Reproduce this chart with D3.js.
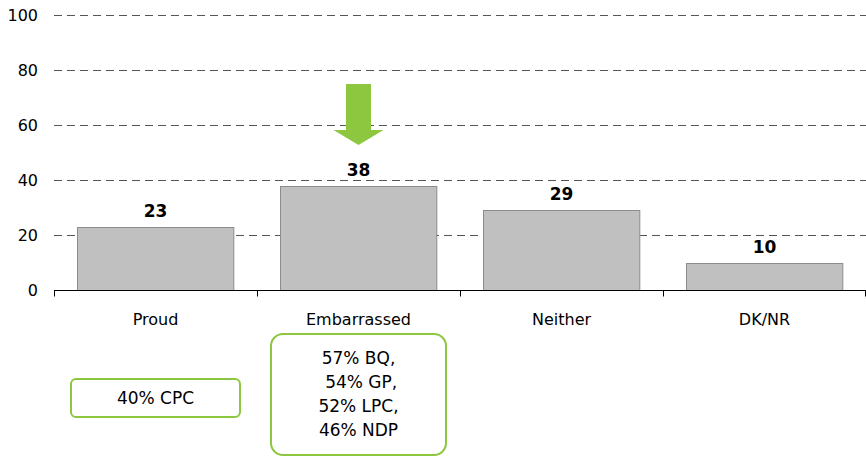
<!DOCTYPE html>
<html>
<head>
<meta charset="utf-8">
<script src="https://cdn.jsdelivr.net/npm/d3@7"></script>
<style>
  body { margin: 0; background: #fff; }
  svg text { font-family: "DejaVu Sans", Verdana, sans-serif; }
</style>
</head>
<body>
<div class="chart-container"></div>
<script>
// data
const categories = ['Proud', 'Embarrassed', 'Neither', 'DK/NR'];
const values = [23, 38, 29, 10];
const yTicks = [0, 20, 40, 60, 80, 100];
const boxNotes = [
  {cat: 'Proud', lines: ['40% CPC']},
  {cat: 'Embarrassed', lines: ['57% BQ,', ' 54% GP,', '52% LPC,', '46% NDP']}
];
const highlighted = 'Embarrassed';

const W = 866, H = 456;
const margin = {t: 15, r: 0, b: 166, l: 54};
const green = '#8dc63f';

const svg = d3.select('.chart-container').append('svg')
  .attr('width', W)
  .attr('height', H);

const x = d3.scaleBand()
  .domain(categories)
  .range([margin.l, W - margin.r])
  .paddingInner(0.23)
  .paddingOuter(0.115);

const y = d3.scaleLinear()
  .domain([0, 100])
  .range([H - margin.b, margin.t]);

// gridlines (dashed)
svg.append('g')
  .selectAll('line')
  .data(yTicks.filter(d => d > 0))
  .join('line')
  .attr('x1', margin.l)
  .attr('x2', W)
  .attr('y1', d => Math.round(y(d)) + 0.5)
  .attr('y2', d => Math.round(y(d)) + 0.5)
  .attr('stroke', '#555')
  .attr('stroke-width', 1)
  .attr('stroke-dasharray', '8,5');

// y tick labels
svg.append('g')
  .selectAll('text')
  .data(yTicks)
  .join('text')
  .attr('x', 38)
  .attr('y', d => y(d))
  .attr('dy', '0.35em')
  .attr('text-anchor', 'end')
  .attr('font-size', 16)
  .attr('fill', '#000')
  .text(d => d);

// bars
svg.append('g')
  .selectAll('rect')
  .data(values)
  .join('rect')
  .attr('x', (d, i) => Math.round(x(categories[i])) + 0.5)
  .attr('y', d => Math.round(y(d)) + 0.5)
  .attr('width', x.bandwidth())
  .attr('height', d => y(0) - Math.round(y(d)))
  .attr('fill', '#c0c0c0')
  .attr('stroke', '#8c8c8c')
  .attr('stroke-width', 1);

// value labels
svg.append('g')
  .selectAll('text')
  .data(values)
  .join('text')
  .attr('x', (d, i) => x(categories[i]) + x.bandwidth() / 2)
  .attr('y', d => y(d) - 10)
  .attr('text-anchor', 'middle')
  .attr('font-size', 17)
  .attr('font-weight', 'bold')
  .text(d => d);

// x axis
const step = x.step();
const base = Math.round(y(0)) + 0.5;
svg.append('line')
  .attr('x1', margin.l)
  .attr('x2', W)
  .attr('y1', base)
  .attr('y2', base)
  .attr('stroke', '#000');
const edges = d3.range(categories.length + 1).map(i => margin.l + i * step);
svg.append('g')
  .selectAll('line')
  .data(edges)
  .join('line')
  .attr('x1', d => Math.round(Math.min(d, W - 1)) + 0.5)
  .attr('x2', d => Math.round(Math.min(d, W - 1)) + 0.5)
  .attr('y1', base)
  .attr('y2', base + 6)
  .attr('stroke', '#000');
svg.append('g')
  .selectAll('text')
  .data(categories)
  .join('text')
  .attr('x', d => x(d) + x.bandwidth() / 2)
  .attr('y', 325)
  .attr('text-anchor', 'middle')
  .attr('font-size', 16)
  .text(d => d);

// arrow pointing at the highlighted bar
const cx = x(highlighted) + x.bandwidth() / 2;
const arrowTop = 84, headY = 130, tipY = 145;
svg.append('path')
  .attr('d', `M${cx - 12.5},${arrowTop} H${cx + 12.5} V${headY} H${cx + 25} L${cx},${tipY} L${cx - 25},${headY} H${cx - 12.5} Z`)
  .attr('fill', green);

// note boxes under the categories
const boxSpecs = [
  {w: 169, h: 38, yTop: 379, r: 5},
  {w: 175, h: 121, yTop: 334, r: 12}
];
boxNotes.forEach((note, i) => {
  const s = boxSpecs[i];
  const bx = x(note.cat) + x.bandwidth() / 2;
  const g = svg.append('g');
  g.append('rect')
    .attr('x', bx - s.w / 2)
    .attr('y', s.yTop)
    .attr('width', s.w)
    .attr('height', s.h)
    .attr('rx', s.r)
    .attr('fill', '#fff')
    .attr('stroke', green)
    .attr('stroke-width', 2);
  const lh = 24;
  const firstY = s.yTop + s.h / 2 - (note.lines.length - 1) * lh / 2;
  g.selectAll('text')
    .data(note.lines)
    .join('text')
    .attr('x', bx)
    .attr('y', (d, j) => firstY + j * lh)
    .attr('dy', '0.35em')
    .attr('text-anchor', 'middle')
    .attr('font-size', 17)
    .attr('xml:space', 'preserve')
    .style('white-space', 'pre')
    .text(d => d);
});
</script>
</body>
</html>
